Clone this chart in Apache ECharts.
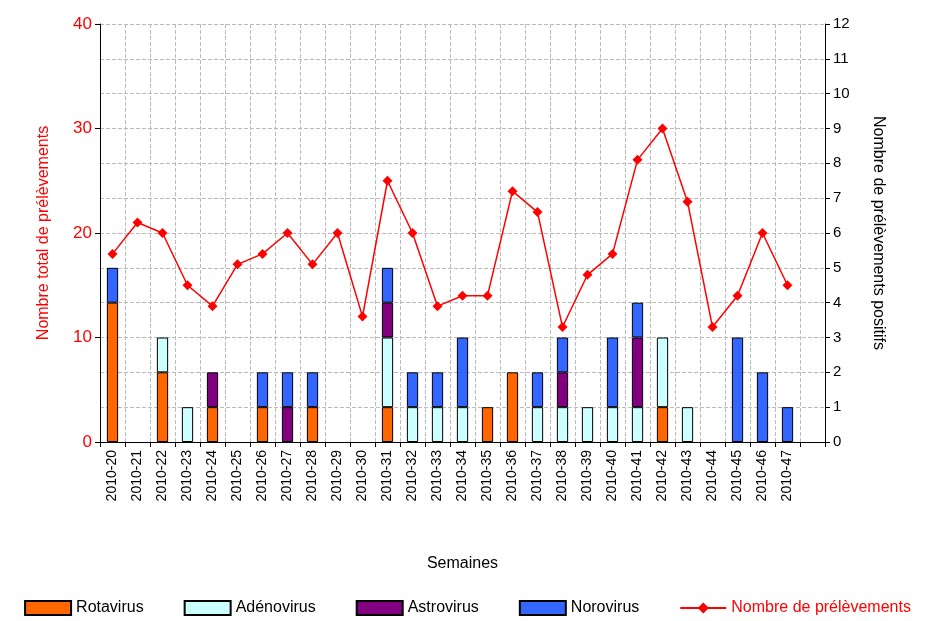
<!DOCTYPE html>
<html><head><meta charset="utf-8">
<script src="https://cdn.jsdelivr.net/npm/echarts@6/dist/echarts.min.js"></script>
<style>html,body{margin:0;padding:0;background:#fff}#c{width:935px;height:621px}</style>
</head><body><div id="c"></div>
<script>
const weeks=[];for(let w=20;w<=47;w++)weeks.push('2010-'+w);
const rota=[4,0,2,0,1,0,1,0,1,0,0,1,0,0,0,1,2,0,0,0,0,0,1,0,0,0,0,0];
const adeno=[0,0,1,1,0,0,0,0,0,0,0,2,1,1,1,0,0,1,1,1,1,1,2,1,0,0,0,0];
const astro=[0,0,0,0,1,0,0,1,0,0,0,1,0,0,0,0,0,0,1,0,0,2,0,0,0,0,0,0];
const noro=[1,0,0,0,0,0,1,1,1,0,0,1,1,1,2,0,0,1,1,0,2,1,0,0,0,3,2,1];
const total=[18,21,20,15,13,17,18,20,17,20,12,25,20,13,14,14,24,22,11,16,18,27,30,23,11,14,20,15];
const cats=weeks.concat(['']);
const z=v=>v===0?null:v;
const bar=(name,data,color)=>({name,type:'bar',stack:'s',yAxisIndex:1,data:data.map(z),barWidth:'45%',
 itemStyle:{color,borderColor:'#000',borderWidth:1}});
const font='Liberation Sans';
echarts.init(document.getElementById('c')).setOption({
 textStyle:{fontFamily:font},
 grid:{left:100,right:110,top:24,bottom:179},
 xAxis:{type:'category',data:cats,name:'Semaines',nameLocation:'middle',nameGap:114,
  nameTextStyle:{fontSize:16,color:'#000'},
  axisLabel:{rotate:90,color:'#000',fontSize:14,interval:0},
  axisLine:{lineStyle:{color:'#000'}},axisTick:{show:true,interval:0,lineStyle:{color:'#000'}},
  splitLine:{show:true,interval:0,lineStyle:{color:'#bbb',type:'dashed'}}},
 yAxis:[{type:'value',min:0,max:40,interval:10,name:'Nombre total de prélèvements',nameLocation:'middle',nameGap:48,
   nameTextStyle:{color:'#f00',fontSize:16},axisLabel:{color:'#f00',fontSize:17},
   axisLine:{show:true,lineStyle:{color:'#000'}},axisTick:{show:true},splitLine:{show:false}},
  {type:'value',min:0,max:12,interval:1,name:'Nombre de prélèvements positifs',nameLocation:'middle',nameGap:45,nameRotate:-90,
   nameTextStyle:{color:'#000',fontSize:16},axisLabel:{color:'#000',fontSize:15},
   axisLine:{show:true,lineStyle:{color:'#000'}},axisTick:{show:true},
   splitLine:{show:true,lineStyle:{color:'#bbb',type:'dashed'}}}],
 legend:{bottom:0,left:'center',itemGap:40,itemWidth:46,itemHeight:14,textStyle:{fontSize:16,color:'#000'},
  data:[{name:'Rotavirus',icon:'rect'},{name:'Adénovirus',icon:'rect'},{name:'Astrovirus',icon:'rect'},{name:'Norovirus',icon:'rect'},{name:'Nombre de prélèvements',textStyle:{color:'#f00'}}]},
 series:[bar('Rotavirus',rota,'#ff6600'),bar('Adénovirus',adeno,'#ccffff'),bar('Astrovirus',astro,'#800080'),bar('Norovirus',noro,'#3366ff'),
  {name:'Nombre de prélèvements',type:'line',yAxisIndex:0,data:total,symbol:'diamond',symbolSize:10,
   lineStyle:{color:'#f00',width:1.5},itemStyle:{color:'#f00'}}]
});
</script></body></html>
